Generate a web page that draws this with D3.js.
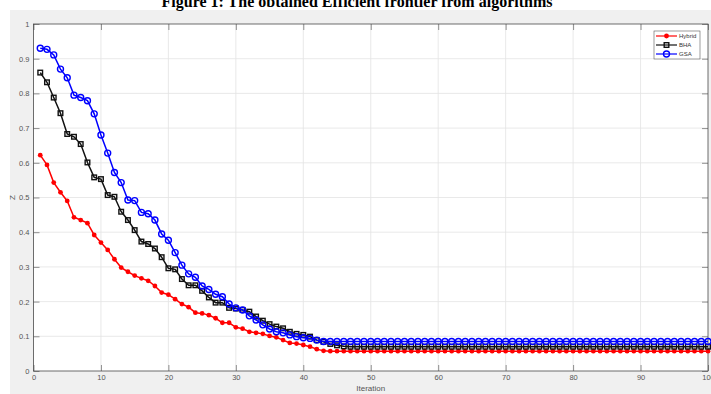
<!DOCTYPE html>
<html>
<head>
<meta charset="utf-8">
<script src="https://cdn.jsdelivr.net/npm/d3@7"></script>
<style>
  html, body { margin: 0; padding: 0; background: #fff; }
  svg { display: block; }
</style>
</head>
<body>
<div id="chart"></div>
<script>
// iteration values
const hybrid = [
  0.622,0.594,0.543,0.515,0.490,0.443,0.435,0.426,0.392,0.370,
  0.349,0.322,0.298,0.286,0.275,0.267,0.260,0.245,0.226,0.220,
  0.207,0.193,0.184,0.168,0.166,0.161,0.152,0.139,0.139,0.126,
  0.122,0.113,0.110,0.107,0.101,0.097,0.089,0.081,0.079,0.075,
  0.070,0.063,0.058,0.057,0.057,0.057,0.057,0.057,0.057,0.057,
  0.057,0.057,0.057,0.057,0.057,0.057,0.057,0.057,0.057,0.057,
  0.057,0.057,0.057,0.057,0.057,0.057,0.057,0.057,0.057,0.057,
  0.057,0.057,0.057,0.057,0.057,0.057,0.057,0.057,0.057,0.057,
  0.057,0.057,0.057,0.057,0.057,0.057,0.057,0.057,0.057,0.057,
  0.057,0.057,0.057,0.057,0.057,0.057,0.057,0.057,0.057,0.057
];
const bha = [
  0.860,0.832,0.788,0.743,0.683,0.675,0.654,0.601,0.558,0.553,
  0.507,0.502,0.459,0.435,0.406,0.373,0.366,0.353,0.328,0.296,
  0.293,0.265,0.247,0.247,0.231,0.212,0.197,0.197,0.182,0.180,
  0.176,0.171,0.157,0.145,0.135,0.128,0.123,0.113,0.107,0.104,
  0.099,0.089,0.084,0.078,0.074,0.071,0.070,0.070,0.070,0.070,
  0.070,0.070,0.070,0.070,0.070,0.070,0.070,0.070,0.070,0.070,
  0.070,0.070,0.070,0.070,0.070,0.070,0.070,0.070,0.070,0.070,
  0.070,0.070,0.070,0.070,0.070,0.070,0.070,0.070,0.070,0.070,
  0.070,0.070,0.070,0.070,0.070,0.070,0.070,0.070,0.070,0.070,
  0.070,0.070,0.070,0.070,0.070,0.070,0.070,0.070,0.070,0.070
];
const gsa = [
  0.930,0.927,0.911,0.870,0.845,0.795,0.788,0.779,0.741,0.680,
  0.628,0.572,0.543,0.493,0.491,0.457,0.453,0.435,0.395,0.377,
  0.341,0.305,0.280,0.270,0.245,0.235,0.221,0.214,0.193,0.182,
  0.176,0.159,0.147,0.133,0.121,0.113,0.110,0.104,0.099,0.096,
  0.094,0.089,0.085,0.085,0.085,0.085,0.085,0.085,0.085,0.085,
  0.085,0.085,0.085,0.085,0.085,0.085,0.085,0.085,0.085,0.085,
  0.085,0.085,0.085,0.085,0.085,0.085,0.085,0.085,0.085,0.085,
  0.085,0.085,0.085,0.085,0.085,0.085,0.085,0.085,0.085,0.085,
  0.085,0.085,0.085,0.085,0.085,0.085,0.085,0.085,0.085,0.085,
  0.085,0.085,0.085,0.085,0.085,0.085,0.085,0.085,0.085,0.085
];
const seriesNames = ["Hybrid", "BHA", "GSA"];
const xTicks = [0, 10, 20, 30, 40, 50, 60, 70, 80, 90, 100];
const yTicks = [0, 0.1, 0.2, 0.3, 0.4, 0.5, 0.6, 0.7, 0.8, 0.9, 1];

const W = 711, H = 394;
const plot = {left: 33.5, right: 708, top: 24, bottom: 371};
const font = "'Liberation Sans', Arial, sans-serif";

const svg = d3.select("#chart").append("svg")
    .attr("width", W)
    .attr("height", H);

// figure background (MATLAB grey)
svg.append("rect")
    .attr("x", 10).attr("y", 10)
    .attr("width", W - 10).attr("height", H - 10)
    .attr("fill", "#f0f0f0");

// title, cut off at the top edge as in the source
svg.append("text")
    .attr("x", 357)
    .attr("y", 6.5)
    .attr("text-anchor", "middle")
    .style("font-family", "'Liberation Serif', 'Times New Roman', serif")
    .style("font-weight", "bold")
    .style("font-size", "16px")
    .text("Figure 1: The obtained Efficient frontier from algorithms");

const x = d3.scaleLinear().domain([0, 100]).range([plot.left, plot.right]);
const y = d3.scaleLinear().domain([0, 1]).range([plot.bottom, plot.top]);

// plot area
svg.append("rect")
    .attr("x", plot.left).attr("y", plot.top)
    .attr("width", plot.right - plot.left).attr("height", plot.bottom - plot.top)
    .attr("fill", "#fff");

// grid
const grid = svg.append("g");
grid.selectAll(".gx")
    .data(xTicks.slice(1, -1))
    .join("line")
    .attr("x1", d => x(d)).attr("x2", d => x(d))
    .attr("y1", plot.top).attr("y2", plot.bottom)
    .attr("stroke", "#e3e3e3").attr("stroke-width", 0.8);
grid.selectAll(".gy")
    .data(yTicks.slice(1, -1))
    .join("line")
    .attr("y1", d => y(d)).attr("y2", d => y(d))
    .attr("x1", plot.left).attr("x2", plot.right)
    .attr("stroke", "#e3e3e3").attr("stroke-width", 0.8);

// axes (inward ticks on all four sides)
const tickLen = 6;
const axisColor = "#4a4a4a";

function styleAxis(g) {
    g.select(".domain").remove();
    g.selectAll(".tick line").attr("stroke", axisColor).attr("stroke-width", 0.6);
    g.selectAll(".tick text")
        .attr("fill", "#555")
        .style("font-family", font)
        .style("font-size", "7.5px");
}

svg.append("g")
    .attr("transform", `translate(0,${plot.bottom})`)
    .call(d3.axisBottom(x).tickValues(xTicks).tickSizeInner(-tickLen).tickSizeOuter(0).tickPadding(4).tickFormat(d3.format("d")))
    .call(styleAxis);
svg.append("g")
    .attr("transform", `translate(0,${plot.top})`)
    .call(d3.axisTop(x).tickValues(xTicks).tickSizeInner(-tickLen).tickSizeOuter(0).tickFormat(""))
    .call(styleAxis);
svg.append("g")
    .attr("transform", `translate(${plot.left},0)`)
    .call(d3.axisLeft(y).tickValues(yTicks).tickSizeInner(-tickLen).tickSizeOuter(0).tickPadding(4).tickFormat(d => d3.format("~g")(d)))
    .call(styleAxis);
svg.append("g")
    .attr("transform", `translate(${plot.right},0)`)
    .call(d3.axisRight(y).tickValues(yTicks).tickSizeInner(-tickLen).tickSizeOuter(0).tickFormat(""))
    .call(styleAxis);

// box
svg.append("rect")
    .attr("x", plot.left).attr("y", plot.top)
    .attr("width", plot.right - plot.left).attr("height", plot.bottom - plot.top)
    .attr("fill", "none")
    .attr("stroke", axisColor)
    .attr("stroke-width", 0.8);

// axis labels
svg.append("text")
    .attr("x", (plot.left + plot.right) / 2)
    .attr("y", 391)
    .attr("text-anchor", "middle")
    .attr("fill", "#555")
    .style("font-family", font)
    .style("font-size", "8px")
    .text("Iteration");

svg.append("text")
    .attr("transform", `translate(15,${(plot.top + plot.bottom) / 2}) rotate(-90)`)
    .attr("text-anchor", "middle")
    .attr("fill", "#555")
    .style("font-family", font)
    .style("font-size", "8px")
    .text("Z");

// series
const series = [
    {name: seriesNames[0], values: hybrid, color: "#ff0000", marker: "dot"},
    {name: seriesNames[1], values: bha, color: "#111111", marker: "square"},
    {name: seriesNames[2], values: gsa, color: "#0000ff", marker: "circle"}
];

const line = d3.line()
    .x((d, i) => x(i + 1))
    .y(d => y(d));

function drawMarker(g, kind, color, cx, cy) {
    if (kind === "dot") {
        g.append("circle").attr("cx", cx).attr("cy", cy).attr("r", 2.4)
            .attr("fill", color);
    } else if (kind === "square") {
        g.append("rect").attr("x", cx - 2.3).attr("y", cy - 2.3)
            .attr("width", 4.6).attr("height", 4.6)
            .attr("fill", "none").attr("stroke", color).attr("stroke-width", 1.4);
    } else {
        g.append("circle").attr("cx", cx).attr("cy", cy).attr("r", 3)
            .attr("fill", "none").attr("stroke", color).attr("stroke-width", 1.4);
    }
}

series.forEach(s => {
    const g = svg.append("g");
    g.append("path")
        .datum(s.values)
        .attr("fill", "none")
        .attr("stroke", s.color)
        .attr("stroke-width", 1.5)
        .attr("d", line);
    s.values.forEach((v, i) => drawMarker(g, s.marker, s.color, x(i + 1), y(v)));
});

// legend
const legend = svg.append("g").attr("transform", "translate(654,31)");
legend.append("rect")
    .attr("width", 46).attr("height", 28)
    .attr("fill", "#fff")
    .attr("stroke", "#5a5a5a")
    .attr("stroke-width", 0.6);

series.forEach((s, i) => {
    const ly = 5 + i * 9;
    const item = legend.append("g");
    item.append("line")
        .attr("x1", 2).attr("x2", 23)
        .attr("y1", ly).attr("y2", ly)
        .attr("stroke", s.color).attr("stroke-width", 1.2);
    drawMarker(item, s.marker, s.color, 12.5, ly);
    item.append("text")
        .attr("x", 25).attr("y", ly + 2.2)
        .attr("fill", "#333")
        .style("font-family", font)
        .style("font-size", "6px")
        .text(s.name);
});
</script>
</body>
</html>
